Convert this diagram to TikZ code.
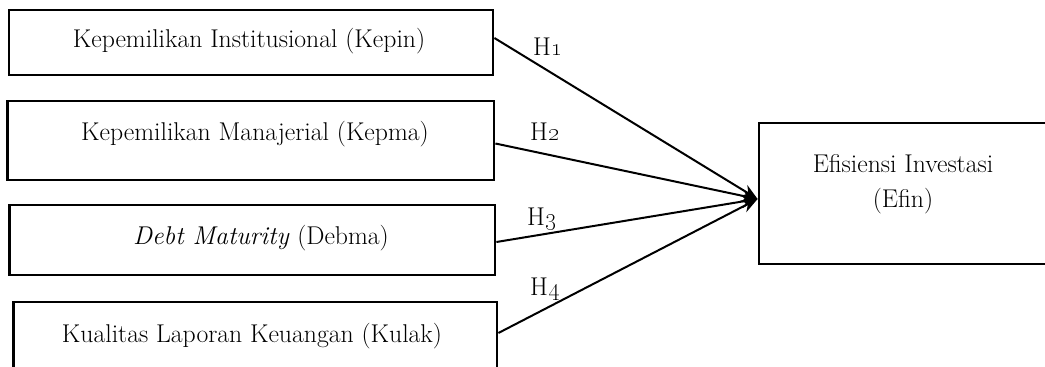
\documentclass[tikz,border=0pt]{standalone}
\usetikzlibrary{arrows.meta}
\begin{document}
\begin{tikzpicture}[x=1pt,y=-1pt,
  box/.style={draw=black,line width=2.8pt,rectangle,inner sep=0pt},
  txt/.style={inner sep=0pt,font=\fontsize{25.7}{35}\selectfont},
  hlab/.style={inner sep=0pt,anchor=base west,font=\fontsize{25.7}{35}\selectfont},
  conn/.style={line width=2pt,-{Stealth[length=16pt,width=13pt]}}]
\useasboundingbox (0,0) rectangle (1045,367);
% boxes
\node[box,minimum width=484pt,minimum height=65pt] (kepin) at (251,42.5) {};
\node[box,minimum width=486.5pt,minimum height=79pt] (kepma) at (250.75,140.5) {};
\node[box,minimum width=485.5pt,minimum height=70pt] (debma) at (252.25,240) {};
\node[box,minimum width=483.5pt,minimum height=78pt] (kulak) at (255.25,341) {};
\node[box,minimum width=296pt,minimum height=141pt] (efin) at (907,193.5) {};
% texts
\node[txt,anchor=base] (tkepin) at (249,47) {Kepemilikan Institusional (Kepin)};
\node[txt,anchor=base] (tkepma) at (255,140) {Kepemilikan Manajerial (Kepma)};
\node[txt,anchor=base] (tdebma) at (261,244) {\textit{Debt Maturity} (Debma)};
\node[txt,anchor=base] (tkulak) at (252,342) {Kualitas Laporan Keuangan (Kulak)};
\node[txt,align=center] (tefin) at (903,184) {Efisiensi Investasi\\(Efin)};
% connectors
\coordinate (tip) at ([yshift=-5.5pt]efin.west);
\draw[conn] ([yshift=4.5pt]kepin.east) -- (tip);
\draw[conn] ([yshift=-3pt]kepma.east) -- (tip);
\draw[conn] ([yshift=-2pt]debma.east) -- (tip);
\draw[conn] ([yshift=8pt]kulak.east) -- (tip);
% labels
\node[hlab] (h1) at (533,55) {H\oldstylenums{1}};
\node[hlab] (h2) at (530,140) {H\oldstylenums{2}};
\node[hlab] (h3) at (527,225) {H\oldstylenums{3}};
\node[hlab] (h4) at (530,295) {H\oldstylenums{4}};
\end{tikzpicture}
\end{document}
